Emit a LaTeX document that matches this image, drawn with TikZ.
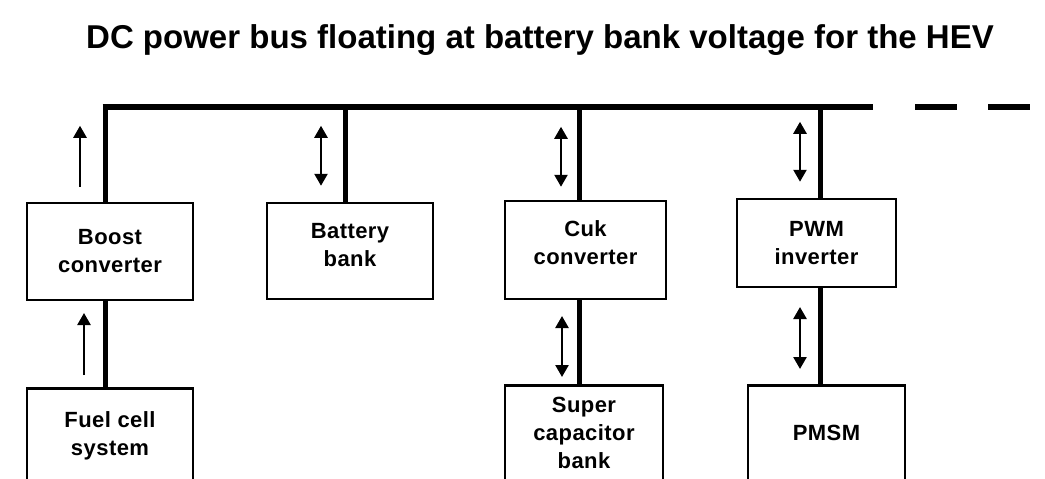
\documentclass[tikz,border=0pt]{standalone}
\usepackage{fontspec}
\setmainfont{Liberation Sans}
\newfontfamily\boxfamily{Liberation Sans}[LetterSpace=2]
\usetikzlibrary{calc,arrows.meta}
\definecolor{busInk}{RGB}{0,0,0}
\newcommand{\BoxFont}{\boxfamily\fontsize{22}{28}\selectfont\bfseries}

\begin{document}
\begin{tikzpicture}[x=1pt,y=-1pt,
  block/.style={draw=busInk,line width=2.5pt,fill=white,align=center,inner sep=2pt,font=\BoxFont},
  lowblock/.style={block,minimum height=96pt},
  busline/.style={draw=busInk,line width=6pt},
  stem/.style={draw=busInk,line width=5pt},
  oneway/.style={-{Triangle[width=13pt,length=12pt]},line width=2.5pt},
  twoway/.style={{Triangle[width=13pt,length=12pt]}-{Triangle[width=13pt,length=12pt]},line width=2.5pt}]
  \useasboundingbox (0,0) rectangle (1045,479);
  \clip (0,0) rectangle (1045,479);
  \node[anchor=base,font=\fontsize{33}{36}\selectfont\bfseries] (title) at (540,48) {DC power bus floating at battery bank voltage for the HEV};
  % upper row of blocks
  \node[block,minimum width=166pt,minimum height=97pt] (boost) at (110,251.5) {Boost\\converter};
  \node[block,minimum width=166pt,minimum height=96pt,text depth=12pt] (battery) at (350,251) {Battery\\bank};
  \node[block,minimum width=161pt,minimum height=98pt,text depth=14pt] (cuk) at (585.5,250) {Cuk\\converter};
  \node[block,minimum width=159pt,minimum height=88pt] (pwm) at (816.5,243) {PWM\\inverter};
  % lower row, cut off by the page edge
  \node[lowblock,minimum width=166pt,anchor=north] (fuel) at (110,387) {Fuel cell\\system};
  \node[lowblock,minimum width=158pt,anchor=north] (supercap) at (584,384) {Super\\capacitor\\bank};
  \node[lowblock,minimum width=157pt,anchor=north] (pmsm) at (826.5,384) {PMSM};
  % the bus and its taps
  \coordinate (tapA) at (105,107);
  \coordinate (tapB) at (345,107);
  \coordinate (tapC) at (579,107);
  \coordinate (tapD) at (820,107);
  \coordinate (busEnd) at (873,107);
  \coordinate (dashStart) at (915,107);
  \coordinate (dashEnd) at (1050,107);
  \draw[busline] ([xshift=-2.5pt]tapA) -- (busEnd);
  \draw[busline,dash pattern=on 42pt off 31pt] (dashStart) -- (dashEnd);
  \draw[stem] (tapA) -- (tapA |- boost.north);
  \draw[stem] (tapB) -- (tapB |- battery.north);
  \draw[stem] (tapC) -- (tapC |- cuk.north);
  \draw[stem] (tapD) -- (tapD |- pwm.north);
  \draw[stem] (boost.south -| tapA) -- (fuel.north -| tapA);
  \draw[stem] (cuk.south -| tapC) -- (supercap.north -| tapC);
  \draw[stem] (pwm.south -| tapD) -- (pmsm.north -| tapD);
  % power flow arrows
  \draw[oneway] ([xshift=-30pt,yshift=15pt]boost.north) -- ([xshift=-30pt,yshift=76pt]boost.north);
  \draw[oneway] ([xshift=-26pt,yshift=12pt]fuel.north) -- ([xshift=-26pt,yshift=74pt]fuel.north);
  \draw[twoway] ([xshift=-29pt,yshift=16pt]battery.north) -- ([xshift=-29pt,yshift=76pt]battery.north);
  \draw[twoway] ([xshift=-24.5pt,yshift=13pt]cuk.north) -- ([xshift=-24.5pt,yshift=73pt]cuk.north);
  \draw[twoway] ([xshift=-22pt,yshift=7pt]supercap.north) -- ([xshift=-22pt,yshift=68pt]supercap.north);
  \draw[twoway] ([xshift=-16.5pt,yshift=16pt]pwm.north) -- ([xshift=-16.5pt,yshift=76pt]pwm.north);
  \draw[twoway] ([xshift=-26.5pt,yshift=15pt]pmsm.north) -- ([xshift=-26.5pt,yshift=77pt]pmsm.north);
\end{tikzpicture}
\end{document}
